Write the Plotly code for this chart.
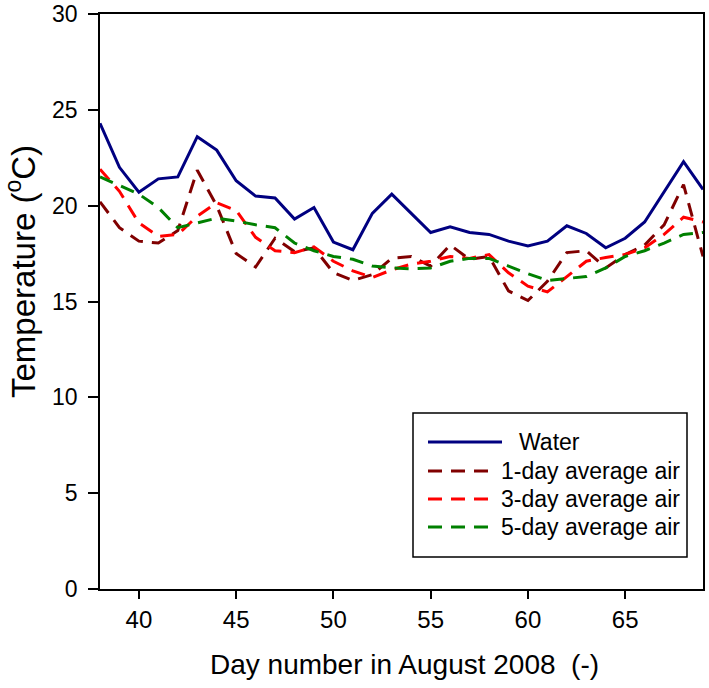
import plotly.graph_objects as go

days = list(range(38, 70))
water = [24.3, 22.0, 20.7, 21.4, 21.5, 23.6, 22.9, 21.3, 20.5, 20.4, 19.3, 19.9, 18.1, 17.7, 19.6, 20.6,
         19.6, 18.6, 18.9, 18.6, 18.5, 18.15, 17.9, 18.15, 18.95, 18.55, 17.8, 18.3, 19.15, 20.7, 22.3, 20.85]
air_1day = [20.2, 18.85, 18.15, 18.05, 18.7, 21.85, 20.0, 17.5, 16.8, 18.3, 17.6, 17.8, 16.5, 16.1, 16.4, 17.25,
            17.35, 16.85, 17.95, 17.2, 17.35, 15.55, 15.05, 16.05, 17.55, 17.65, 16.75, 17.45, 17.95, 19.0, 21.1, 17.35]
air_3day = [21.9, 20.75, 19.1, 18.4, 18.5, 19.45, 20.15, 19.75, 18.35, 17.65, 17.55, 17.85, 17.1, 16.6, 16.25, 16.65,
            16.95, 17.1, 17.35, 17.25, 17.45, 16.5, 15.8, 15.5, 16.3, 17.1, 17.3, 17.45, 17.8, 18.5, 19.4, 19.15]
air_5day = [21.5, 21.05, 20.6, 19.9, 18.85, 19.1, 19.35, 19.2, 19.0, 18.85, 18.05, 17.65, 17.35, 17.2, 16.85, 16.75,
            16.7, 16.75, 17.1, 17.25, 17.25, 16.85, 16.45, 16.1, 16.2, 16.3, 16.75, 17.35, 17.65, 18.05, 18.5, 18.6]

series_names = ["Water", "1-day average air", "3-day average air", "5-day average air"]
series_values = [water, air_1day, air_3day, air_5day]
colors = ["#000080", "#800000", "#FF0000", "#008000"]
dashes = ["solid", "14px,9px", "14px,9px", "14px,9px"]

x_ticks = [40, 45, 50, 55, 60, 65]
y_ticks = [0, 5, 10, 15, 20, 25, 30]

FONT = "Liberation Sans, Arial, sans-serif"

fig = go.Figure()
for name, vals, col, dsh in zip(series_names, series_values, colors, dashes):
    fig.add_trace(go.Scatter(x=days, y=vals, mode="lines", name=name,
                             line=dict(color=col, width=3, dash=dsh), showlegend=False))

# plot area in pixels: x 100..703, y 14..589
L, R, T, B = 100, 703, 14, 589
def px(xp):
    return (xp - L) / (R - L)
def py(yp):
    return (B - yp) / (B - T)

shapes = [dict(type="rect", xref="paper", yref="paper", x0=px(413), x1=px(687), y0=py(557), y1=py(413),
               line=dict(color="black", width=1.5), fillcolor="white", layer="above")]
annotations = []
rows = [442, 471, 499, 527]
for i, (name, col, dsh) in enumerate(zip(series_names, colors, dashes)):
    x1 = 502 if i == 0 else 493
    shapes.append(dict(type="line", xref="paper", yref="paper", x0=px(428), x1=px(x1),
                       y0=py(rows[i]), y1=py(rows[i]), line=dict(color=col, width=3, dash=dsh), layer="above"))
    tx = 517 if i == 0 else 499
    annotations.append(dict(xref="paper", yref="paper", x=px(tx), y=py(rows[i]), text=name, showarrow=False,
                            xanchor="left", yanchor="middle", font=dict(size=23, color="black", family=FONT)))

annotations.append(dict(xref="paper", yref="paper", x=px(404), y=py(664),
                        text="Day number in August 2008\u00a0\u00a0(-)", showarrow=False,
                        xanchor="center", yanchor="middle", font=dict(size=28, color="black", family=FONT)))
annotations.append(dict(xref="paper", yref="paper", x=px(21), y=py(272),
                        text="Temperature (<sup>o</sup>C)", showarrow=False, textangle=-90,
                        xanchor="center", yanchor="middle", font=dict(size=33, color="black", family=FONT)))

fig.update_layout(
    template="none",
    width=709, height=688,
    margin=dict(l=L, r=709 - R, t=T, b=688 - B, pad=0, autoexpand=False),
    paper_bgcolor="white", plot_bgcolor="white",
    font=dict(family=FONT, color="black"),
    shapes=shapes, annotations=annotations,
    showlegend=False,
)
fig.update_xaxes(range=[38, 69], tickvals=x_ticks, ticks="outside", ticklen=8, tickwidth=1.5, tickcolor="black",
                 showline=True, linecolor="black", linewidth=1.5, mirror=True, showgrid=False, zeroline=False,
                 automargin=False, tickfont=dict(size=24, family=FONT), ticklabelstandoff=0,
                 ticklabeloverflow="allow")
fig.update_yaxes(range=[-0.0001, 30.0001], tickvals=y_ticks, ticks="outside", ticklen=10, tickwidth=1.5, tickcolor="black",
                 showline=True, linecolor="black", linewidth=1.5, mirror=True, showgrid=False, zeroline=False,
                 automargin=False, tickfont=dict(size=23, family=FONT), ticklabelstandoff=6,
                 ticklabeloverflow="allow")

fig.write_html("out.html", config={"displayModeBar": False},
               post_script="document.body.style.margin='0';document.body.style.overflow='hidden';")
